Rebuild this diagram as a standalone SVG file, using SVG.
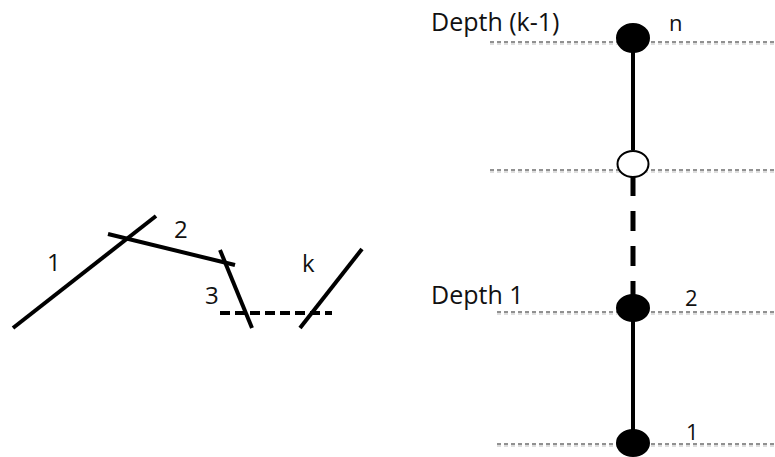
<svg xmlns="http://www.w3.org/2000/svg" width="775" height="457" viewBox="0 0 775 457">
<style>
.seg{stroke:#000;stroke-width:4;fill:none;stroke-linecap:butt}
.dash{stroke:#000;stroke-width:4;fill:none;stroke-dasharray:10 5}
.lvl{stroke:#222;stroke-width:1;stroke-dasharray:4 3;fill:none}
.lvls{stroke:#bbb;stroke-width:1;stroke-dasharray:4 3;fill:none}
.lbl{font-family:"Open Sans","Liberation Sans",sans-serif;font-size:24px;fill:#111}
.big{font-size:25px}
.sm{font-size:22px}
.node{fill:#000;stroke:#000;stroke-width:2}
.open{fill:#fff;stroke:#000;stroke-width:2}
</style>
<rect width="775" height="457" fill="#fff"/>
<g id="left-figure">
<line class="seg" x1="13" y1="328" x2="156" y2="216"/>
<line class="seg" x1="108" y1="234" x2="235" y2="265"/>
<line class="seg" x1="220" y1="250" x2="252" y2="328"/>
<line class="dash" x1="220" y1="313" x2="332" y2="313"/>
<line class="seg" x1="362" y1="249" x2="300" y2="328"/>
<text class="lbl" x="47" y="271">1</text>
<text class="lbl" x="174" y="238">2</text>
<text class="lbl" x="205" y="304">3</text>
<text class="lbl" x="302" y="272">k</text>
</g>
<g id="levels">
<line class="lvls" x1="490" y1="44" x2="775" y2="44"/>
<line class="lvl" x1="490" y1="42" x2="775" y2="42"/>
<line class="lvls" x1="490" y1="172" x2="775" y2="172"/>
<line class="lvl" x1="490" y1="170" x2="775" y2="170"/>
<line class="lvls" x1="497" y1="314" x2="775" y2="314"/>
<line class="lvl" x1="497" y1="312" x2="775" y2="312"/>
<line class="lvls" x1="497" y1="446" x2="775" y2="446"/>
<line class="lvl" x1="497" y1="444" x2="775" y2="444"/>
<text class="lbl big" x="431" y="31">Depth (k-1)</text>
<text class="lbl big" x="431" y="304">Depth 1</text>
</g>
<g id="connectors">
<line class="seg" x1="633" y1="38" x2="633" y2="150"/>
<line stroke="#000" stroke-width="5" stroke-dasharray="20 15" x1="633" y1="176" x2="633" y2="296"/>
<line class="seg" x1="633" y1="309" x2="633" y2="443"/>
</g>
<g id="node-n">
<ellipse class="node" cx="633" cy="38" rx="16" ry="14"/>
<text class="lbl sm" x="669" y="31">n</text>
</g>
<g id="node-open">
<ellipse class="open" cx="633" cy="164" rx="15.5" ry="13"/>
</g>
<g id="node-2">
<ellipse class="node" cx="633" cy="308" rx="16" ry="13"/>
<text class="lbl sm" x="685" y="306">2</text>
</g>
<g id="node-1">
<ellipse class="node" cx="633" cy="443" rx="16" ry="13"/>
<text class="lbl sm" x="686" y="440">1</text>
</g>
</svg>
